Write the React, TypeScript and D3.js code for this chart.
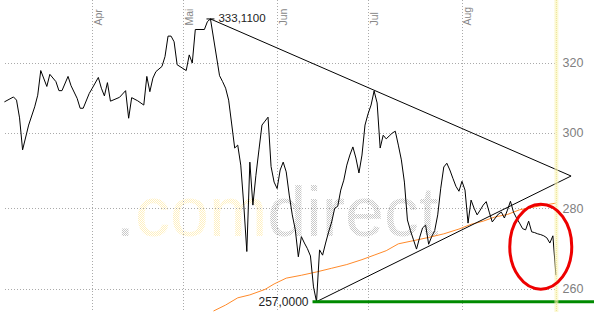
import React from "react";
import * as d3 from "d3";

// ---- data (day offsets from start date, values) ----
const START = Date.UTC(2015, 2, 3);
const END_DAY = 187;

const price: [number, number][] = [
  [0, 308.7], [3, 310.1], [4, 309.2], [5, 304.2], [6, 295.4], [8, 302.2], [10, 307.3], [11, 310.6],
  [12, 317.7], [14, 313.1], [15, 316.6], [17, 314.5], [18, 311.9], [19, 311.9], [21, 316.0], [22, 313.3],
  [24, 309.7], [25, 306.9], [26, 306.9], [28, 311.1], [29, 312.6], [31, 315.7], [32, 312.6], [33, 310.4],
  [34, 314.2], [35, 308.9], [38, 310.0], [40, 311.9], [41, 304.1], [42, 309.9], [44, 309.0], [46, 307.8],
  [47, 316.0], [48, 311.6], [49, 315.5], [50, 317.4], [52, 318.9], [53, 321.8], [54, 327.9], [55, 327.9],
  [56, 326.2], [57, 319.4], [60, 317.7], [61, 322.3], [62, 319.9], [63, 329.9], [66, 329.9], [67, 332.3],
  [68, 333.11], [71, 316.2], [72, 314.5], [73, 312.6], [74, 309.2], [75, 302.5], [76, 295.9], [77, 296.7],
  [78, 291.3], [79, 280.8], [80, 269.1], [81, 292.1], [82, 280.8], [83, 288.6], [84, 295.4], [85, 302.2],
  [86, 303.3], [87, 304.4], [88, 290.9], [89, 286.8], [90, 285.1], [91, 290.0], [92, 292.1], [93, 289.5],
  [94, 283.4], [95, 278.3], [96, 274.5], [97, 267.8], [98, 272.8], [99, 271.2], [100, 269.8], [101, 268.0],
  [102, 260.5], [103, 257.0], [104, 269.5], [105, 268.2], [106, 271.2], [107, 274.0], [108, 276.5], [109, 280.0],
  [110, 280.5], [111, 284.7], [112, 287.3], [113, 291.3], [114, 294.0], [115, 296.2], [116, 293.2], [117, 289.2],
  [118, 294.0], [119, 302.2], [120, 305.3], [121, 307.8], [122, 311.8], [123, 308.4], [124, 295.9], [125, 299.4],
  [126, 298.4], [127, 299.2], [128, 300.0], [129, 300.5], [130, 296.7], [131, 292.7], [132, 286.8], [133, 277.0],
  [134, 274.3], [135, 272.0], [136, 269.7], [137, 272.5], [138, 275.0], [139, 275.7], [140, 270.9], [141, 272.8],
  [142, 274.3], [143, 278.3], [144, 285.2], [145, 290.8], [146, 291.8], [147, 290.0], [148, 287.8], [149, 285.7],
  [150, 284.4], [151, 287.0], [152, 284.7], [153, 276.2], [154, 282.1], [155, 280.0], [156, 278.3], [157, 279.5],
  [158, 280.8], [159, 281.7], [160, 279.0], [161, 276.5], [162, 277.5], [163, 278.5], [164, 279.0], [165, 277.5],
  [166, 279.5], [167, 281.8], [168, 279.0], [169, 277.5], [170, 276.2], [171, 274.8], [172, 274.5], [173, 276.7],
  [174, 274.0], [175, 273.8], [176, 273.5], [177, 273.3], [178, 273.0], [179, 272.5], [180, 271.2], [181, 273.0],
  [182, 263.3],
];

const movingAvg: [number, number][] = [
  [69, 254.8], [73, 256.2], [77, 257.9], [81, 258.6], [86, 259.9], [89, 261.2], [93, 262.6], [98, 263.3],
  [103, 264.1], [108, 265.0], [113, 265.9], [118, 267.1], [122, 268.2], [126, 269.3], [130, 271.0], [135, 271.8],
  [140, 272.6], [145, 273.5], [150, 274.7], [154, 275.9], [158, 276.7], [162, 277.8], [166, 278.4], [170, 279.6],
  [174, 280.2], [178, 280.8], [182, 281.3],
];

const highPoint: [number, number] = [68, 333.11];
const lowPoint: [number, number] = [103, 257.0];
const apexPoint: [number, number] = [187, 288.4];
const highLabel = "333,1100";
const lowLabel = "257,0000";

const yTicks = [260, 280, 300, 320];
const monthLabels = ["Apr", "Mai", "Jun", "Jul", "Aug"];
const lastDay = 182;

const W = 594;
const H = 312;
const FONT = "'Liberation Sans', Arial, sans-serif";

export default function App() {
  const day = (d: number) => d3.utcDay.offset(new Date(START), d);
  const x = d3
    .scaleUtc()
    .domain([day(0), day(END_DAY)])
    .range([4.4, 4.4 + 3.0303 * END_DAY]);
  const y = d3.scaleLog().domain([260, 320]).range([289, 62.7]);

  const line = d3
    .line<[number, number]>()
    .x((p) => x(day(p[0])))
    .y((p) => y(p[1]));

  const months = d3.utcMonth.range(d3.utcMonth.ceil(day(0)), day(END_DAY)).slice(0, monthLabels.length);
  const plotRight = x(day(lastDay)) - 1;

  const hx = x(day(highPoint[0]));
  const hy = y(highPoint[1]);
  const lx = x(day(lowPoint[0]));
  const ly = y(lowPoint[1]);
  const ax = x(day(apexPoint[0]));
  const ay = y(apexPoint[1]);

  return (
    <svg
      width={W}
      height={H}
      style={{ position: "absolute", left: 0, top: 0, background: "#fff" }}
      fontFamily={FONT}
    >
      <defs>
        <pattern id="wmGray" width="2" height="2" patternUnits="userSpaceOnUse">
          <rect x="0" y="0" width="1" height="1" fill="#c8c8c8" />
          <rect x="1" y="1" width="1" height="1" fill="#c8c8c8" />
        </pattern>
        <pattern id="wmYellow" width="2" height="2" patternUnits="userSpaceOnUse">
          <rect x="0" y="0" width="1" height="1" fill="#fff0c0" />
          <rect x="1" y="1" width="1" height="1" fill="#fff0c0" />
        </pattern>
      </defs>
      <rect width={W} height={H} fill="#fff" />

      {/* watermark */}
      <text x={115.5} y={236} fontSize={70} fontFamily={FONT}>
        <tspan fill="url(#wmGray)">.</tspan>
        <tspan fill="url(#wmYellow)">com</tspan>
        <tspan fill="url(#wmGray)">direct</tspan>
      </text>

      {/* horizontal grid */}
      {yTicks.map((t) => (
        <line
          key={t}
          x1={5}
          x2={plotRight}
          y1={Math.round(y(t)) + 0.5}
          y2={Math.round(y(t)) + 0.5}
          stroke="#aaa"
          strokeDasharray="1,2"
        />
      ))}
      {/* vertical grid */}
      {months.map((m, i) => (
        <g key={i}>
          <line
            x1={Math.round(x(m)) + 0.5}
            x2={Math.round(x(m)) + 0.5}
            y1={0}
            y2={H}
            stroke="#aaa"
            strokeDasharray="1,2"
          />
          <text
            transform={`translate(${x(m) + 9.5},25.5) rotate(-90)`}
            fontSize={10.5}
            fill="#888"
          >
            {monthLabels[i]}
          </text>
        </g>
      ))}

      {/* y labels */}
      {yTicks.map((t) => (
        <text key={t} x={562.5} y={y(t) + 4.3} fontSize={12.5} fill="#808080">
          {t}
        </text>
      ))}

      {/* moving average */}
      <path d={line(movingAvg) || ""} fill="none" stroke="#ff8a2a" strokeWidth={1} />

      {/* triangle */}
      <line x1={hx} y1={hy} x2={ax} y2={ay} stroke="#000" strokeWidth={1} />
      <line x1={lx} y1={ly} x2={ax} y2={ay} stroke="#000" strokeWidth={1} />

      {/* price */}
      <path d={line(price) || ""} fill="none" stroke="#000" strokeWidth={1} />

      {/* high marker */}
      <line x1={hx - 4} x2={hx + 4} y1={hy} y2={hy} stroke="#000" />
      <text x={hx + 8} y={hy + 3.5} fontSize={11.5} fill="#222">
        {highLabel}
      </text>

      {/* support line */}
      <line x1={lx - 4} x2={W} y1={ly} y2={ly} stroke="#008a00" strokeWidth={3} />
      <text x={lx - 8} y={ly + 4} fontSize={12} fill="#222" textAnchor="end">
        {lowLabel}
      </text>

      {/* current day band */}
      <rect x={plotRight - 0.5} y={0} width={4} height={H} fill="#faf5b8" opacity={0.6} />
      <line x1={plotRight + 1.5} x2={plotRight + 1.5} y1={0} y2={H} stroke="#e6da80" strokeDasharray="1,1" opacity={0.7} />

      {/* highlight ellipse */}
      <ellipse
        cx={x(day(177.7))}
        cy={y(270.3)}
        rx={31}
        ry={42.5}
        fill="none"
        stroke="#ee0000"
        strokeWidth={3}
      />
    </svg>
  );
}
